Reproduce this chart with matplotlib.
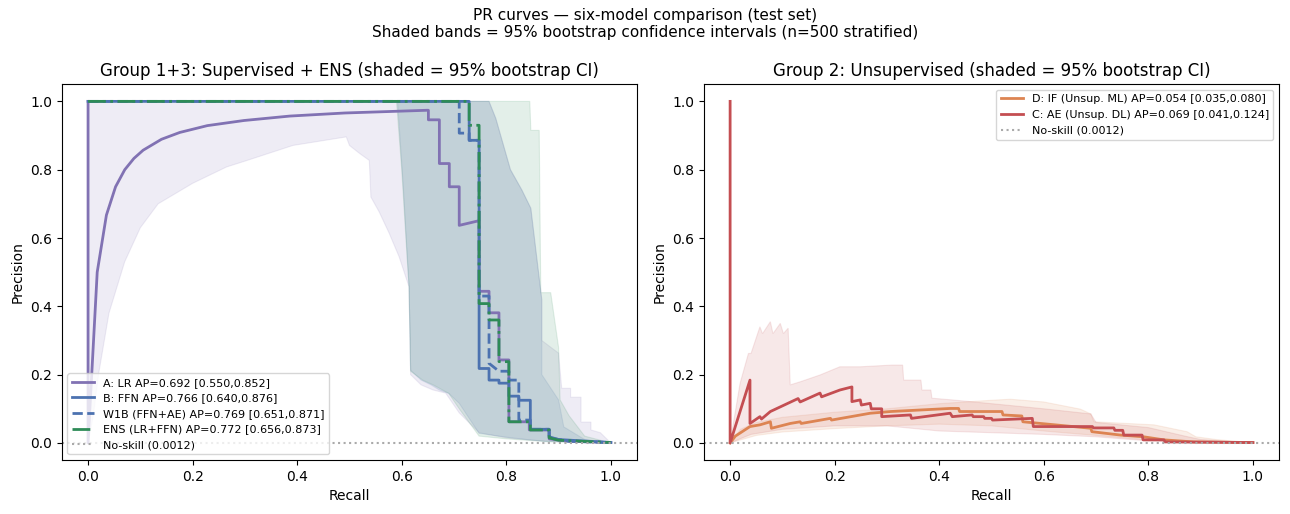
import numpy as np
import matplotlib

matplotlib.use("Agg")
import matplotlib.pyplot as plt

# ------------------------------------------------------------------ data
NO_SKILL = 0.0012

# Group 1+3 curves (recall, precision) as drawn
lr_recall = [0.0, 0.0, 0.0175, 0.0351, 0.0526, 0.0702, 0.0877, 0.1053, 0.1404, 0.1754,
             0.2281, 0.2982, 0.386, 0.491, 0.649, 0.651, 0.651, 0.672, 0.672, 0.691,
             0.691, 0.71, 0.71, 0.746, 0.748, 0.748, 0.767, 0.767, 0.786, 0.786,
             0.805, 0.805, 0.844, 0.844, 0.882, 0.882, 0.92, 1.0]
lr_precision = [1.0, 0.0, 0.5, 0.667, 0.75, 0.8, 0.833, 0.857, 0.889, 0.909,
                0.929, 0.944, 0.957, 0.966, 0.974, 0.974, 0.946, 0.946, 0.818, 0.818,
                0.75, 0.75, 0.637, 0.65, 0.65, 0.444, 0.444, 0.381, 0.381, 0.243,
                0.243, 0.062, 0.062, 0.038, 0.038, 0.012, 0.005, 0.0012]

ffn_recall = [0.0, 0.729, 0.729, 0.748, 0.748, 0.767, 0.767, 0.786, 0.786, 0.805,
              0.805, 0.824, 0.824, 0.846, 0.846, 0.882, 0.882, 0.90, 1.0]
ffn_precision = [1.0, 1.0, 0.886, 0.886, 0.218, 0.218, 0.184, 0.184, 0.175, 0.175,
                 0.137, 0.137, 0.125, 0.125, 0.04, 0.04, 0.018, 0.01, 0.0012]

w1b_recall = [0.0, 0.71, 0.71, 0.729, 0.729, 0.748, 0.748, 0.767, 0.767, 0.786,
              0.805, 0.805, 0.824, 0.824, 0.846, 0.846, 0.882, 0.882, 0.92, 1.0]
w1b_precision = [1.0, 1.0, 0.907, 0.907, 0.886, 0.886, 0.43, 0.43, 0.233, 0.21,
                 0.21, 0.184, 0.184, 0.067, 0.067, 0.04, 0.04, 0.015, 0.005, 0.0012]

ens_recall = [0.0, 0.729, 0.729, 0.748, 0.748, 0.767, 0.767, 0.786, 0.786, 0.805,
              0.805, 0.846, 0.846, 0.882, 0.882, 0.90, 1.0]
ens_precision = [1.0, 1.0, 0.93, 0.93, 0.408, 0.408, 0.36, 0.36, 0.238, 0.238,
                 0.062, 0.062, 0.038, 0.038, 0.015, 0.008, 0.0012]

# Group 1+3 CI bands: upper edge and lower edge
lr_band_up_r = [0.0, 0.767, 0.78, 0.808, 0.83, 0.847, 0.868, 0.868, 0.9, 0.906,
                0.923, 0.923, 0.943, 0.943, 0.962, 0.962, 0.98, 1.0]
lr_band_up_p = [1.0, 1.0, 0.95, 0.8, 0.74, 0.687, 0.42, 0.3, 0.263, 0.16,
                0.16, 0.134, 0.134, 0.061, 0.061, 0.038, 0.03, 0.0]
lr_band_lo_r = [0.0, 0.01, 0.02, 0.04, 0.07, 0.1, 0.134, 0.2, 0.265, 0.3, 0.392, 0.494,
                0.5, 0.519, 0.538, 0.541, 0.557, 0.576, 0.595, 0.614, 0.617, 0.637,
                0.66, 0.684, 0.71, 0.748, 0.8, 0.85, 0.9, 0.95, 1.0]
lr_band_lo_p = [0.0, 0.08, 0.2, 0.38, 0.53, 0.63, 0.7, 0.76, 0.808, 0.825, 0.871, 0.896,
                0.871, 0.848, 0.827, 0.72, 0.676, 0.614, 0.545, 0.457, 0.2, 0.17,
                0.155, 0.146, 0.088, 0.03, 0.015, 0.008, 0.004, 0.002, 0.0]

ffn_band_up_r = [0.592, 0.767, 0.78, 0.808, 0.83, 0.847, 0.868, 0.868, 0.9, 0.91, 0.95, 1.0]
ffn_band_up_p = [1.0, 1.0, 0.95, 0.8, 0.74, 0.687, 0.418, 0.2, 0.126, 0.047, 0.01, 0.0]
ffn_band_lo_r = [0.592, 0.603, 0.614, 0.617, 0.637, 0.656, 0.672, 0.69, 0.71, 0.748,
                 0.81, 0.875, 1.0]
ffn_band_lo_p = [1.0, 0.75, 0.457, 0.213, 0.184, 0.17, 0.155, 0.145, 0.116, 0.028,
                 0.015, 0.004, 0.0]

ens_band_up_r = [0.59, 0.845, 0.847, 0.863, 0.866, 0.885, 0.9, 0.903, 0.92, 0.95, 1.0]
ens_band_up_p = [1.0, 1.0, 0.915, 0.915, 0.44, 0.44, 0.28, 0.126, 0.08, 0.02, 0.0]
ens_band_lo_r = [0.59, 0.6, 0.61, 0.614, 0.617, 0.64, 0.66, 0.69, 0.71, 0.748, 0.8,
                 0.875, 1.0]
ens_band_lo_p = [1.0, 0.8, 0.55, 0.457, 0.21, 0.184, 0.17, 0.145, 0.1, 0.02, 0.012,
                 0.004, 0.0]

# Group 2 curves
if_recall = [0.0, 0.01, 0.038, 0.057, 0.077, 0.079, 0.115, 0.134, 0.136, 0.192, 0.194,
             0.268, 0.307, 0.421, 0.437, 0.439, 0.52, 0.522, 0.558, 0.56, 0.69, 0.692,
             0.747, 0.791, 0.83, 0.887, 1.0]
if_precision = [0.0, 0.02, 0.048, 0.053, 0.062, 0.043, 0.057, 0.062, 0.057, 0.072, 0.067,
                0.087, 0.092, 0.101, 0.101, 0.092, 0.092, 0.082, 0.079, 0.062, 0.043, 0.033,
                0.023, 0.018, 0.009, 0.003, 0.0012]

ae_recall = [0.0, 0.0, 0.038, 0.038, 0.057, 0.06, 0.077, 0.13, 0.134, 0.172, 0.175,
             0.21, 0.233, 0.233, 0.249, 0.251, 0.268, 0.27, 0.29, 0.29, 0.345, 0.347,
             0.421, 0.425, 0.463, 0.465, 0.485, 0.487, 0.5, 0.502, 0.578, 0.58, 0.693,
             0.695, 0.734, 0.736, 0.751, 0.753, 0.788, 0.79, 0.83, 0.832, 1.0]
ae_precision = [1.0, 0.0, 0.184, 0.057, 0.077, 0.07, 0.092, 0.13, 0.12, 0.146, 0.135,
                0.155, 0.164, 0.121, 0.126, 0.111, 0.116, 0.1, 0.1, 0.077, 0.082, 0.072,
                0.087, 0.077, 0.082, 0.077, 0.077, 0.072, 0.072, 0.067, 0.072, 0.048, 0.048,
                0.044, 0.044, 0.037, 0.037, 0.023, 0.023, 0.009, 0.009, 0.003, 0.0012]

# Group 2 CI bands
ae_band_up_r = [0.0, 0.019, 0.035, 0.04, 0.057, 0.062, 0.077, 0.082, 0.096, 0.102,
                0.111, 0.115, 0.134, 0.172, 0.21, 0.249, 0.31, 0.33, 0.332, 0.365,
                0.367, 0.384, 0.386, 0.425, 0.5, 0.6, 0.69, 0.7, 0.8, 0.87, 0.9, 1.0]
ae_band_up_p = [0.0, 0.174, 0.262, 0.262, 0.34, 0.32, 0.355, 0.32, 0.35, 0.32,
                0.336, 0.17, 0.179, 0.199, 0.223, 0.223, 0.228, 0.228, 0.184, 0.184,
                0.155, 0.155, 0.131, 0.126, 0.115, 0.1, 0.085, 0.06, 0.045, 0.02, 0.01, 0.0]
ae_band_lo_r = [0.0, 0.04, 0.1, 0.2, 0.3, 0.4, 0.5, 0.6, 0.7, 0.8, 0.9, 1.0]
ae_band_lo_p = [0.0, 0.025, 0.04, 0.05, 0.05, 0.035, 0.03, 0.025, 0.018, 0.006, 0.002, 0.0]

if_band_up_r = [0.0, 0.02, 0.05, 0.1, 0.2, 0.3, 0.4, 0.5, 0.536, 0.6, 0.67, 0.69,
                0.696, 0.811, 0.874, 0.891, 0.93, 1.0]
if_band_up_p = [0.0, 0.04, 0.06, 0.075, 0.09, 0.1, 0.115, 0.125, 0.128, 0.12, 0.099, 0.085,
                0.062, 0.053, 0.033, 0.018, 0.01, 0.0]
if_band_lo_r = [0.0, 0.05, 0.1, 0.2, 0.3, 0.4, 0.5, 0.6, 0.7, 0.8, 0.9, 1.0]
if_band_lo_p = [0.0, 0.022, 0.032, 0.042, 0.05, 0.055, 0.05, 0.035, 0.022, 0.008, 0.002, 0.0]

C_LR, C_FFN, C_ENS = "#8172B3", "#4C72B0", "#2E8B57"
C_IF, C_AE = "#DD8452", "#C44E52"


def band(ax, up_r, up_p, lo_r, lo_p, color, alpha=0.13):
    xs = np.concatenate([up_r, lo_r[::-1]])
    ys = np.concatenate([up_p, lo_p[::-1]])
    ax.fill(xs, ys, color=color, alpha=alpha, lw=0.8)


fig, (ax1, ax2) = plt.subplots(1, 2, figsize=(12.9, 5.14), dpi=100)
fig.subplots_adjust(left=0.048, right=0.9915, bottom=0.105, top=0.836, wspace=0.1165)

# ---- left panel
band(ax1, lr_band_up_r, lr_band_up_p, lr_band_lo_r, lr_band_lo_p, C_LR)
band(ax1, ffn_band_up_r, ffn_band_up_p, ffn_band_lo_r, ffn_band_lo_p, C_FFN)
band(ax1, ens_band_up_r, ens_band_up_p, ens_band_lo_r, ens_band_lo_p, C_ENS)
ax1.plot(lr_recall, lr_precision, color=C_LR, lw=2, label="A: LR AP=0.692 [0.550,0.852]")
ax1.plot(ffn_recall, ffn_precision, color=C_FFN, lw=2, label="B: FFN AP=0.766 [0.640,0.876]")
ax1.plot(w1b_recall, w1b_precision, color=C_FFN, lw=2, ls="--",
         label="W1B (FFN+AE) AP=0.769 [0.651,0.871]")
ax1.plot(ens_recall, ens_precision, color=C_ENS, lw=2, ls="-.",
         label="ENS (LR+FFN) AP=0.772 [0.656,0.873]")
ax1.axhline(NO_SKILL, color="#aaaaaa", ls=":", lw=1.5, label=f"No-skill ({NO_SKILL})")
ax1.set_title("Group 1+3: Supervised + ENS (shaded = 95% bootstrap CI)", fontsize=12)
ax1.set_xlabel("Recall")
ax1.set_ylabel("Precision")
ax1.legend(loc="lower left", fontsize=8)

# ---- right panel
band(ax2, if_band_up_r, if_band_up_p, if_band_lo_r, if_band_lo_p, C_IF)
band(ax2, ae_band_up_r, ae_band_up_p, ae_band_lo_r, ae_band_lo_p, C_AE)
ax2.plot(if_recall, if_precision, color=C_IF, lw=2, label="D: IF (Unsup. ML) AP=0.054 [0.035,0.080]")
ax2.plot(ae_recall, ae_precision, color=C_AE, lw=2, label="C: AE (Unsup. DL) AP=0.069 [0.041,0.124]")
ax2.axhline(NO_SKILL, color="#aaaaaa", ls=":", lw=1.5, label=f"No-skill ({NO_SKILL})")
ax2.set_title("Group 2: Unsupervised (shaded = 95% bootstrap CI)", fontsize=12)
ax2.set_xlabel("Recall")
ax2.set_ylabel("Precision")
ax2.legend(loc="upper right", fontsize=8)

for ax in (ax1, ax2):
    ax.set_xlim(-0.05, 1.05)
    ax.set_ylim(-0.05, 1.05)

fig.suptitle("PR curves — six-model comparison (test set)\n"
             "Shaded bands = 95% bootstrap confidence intervals (n=500 stratified)",
             fontsize=11, y=0.985)
fig.savefig("out.png", dpi=100)
